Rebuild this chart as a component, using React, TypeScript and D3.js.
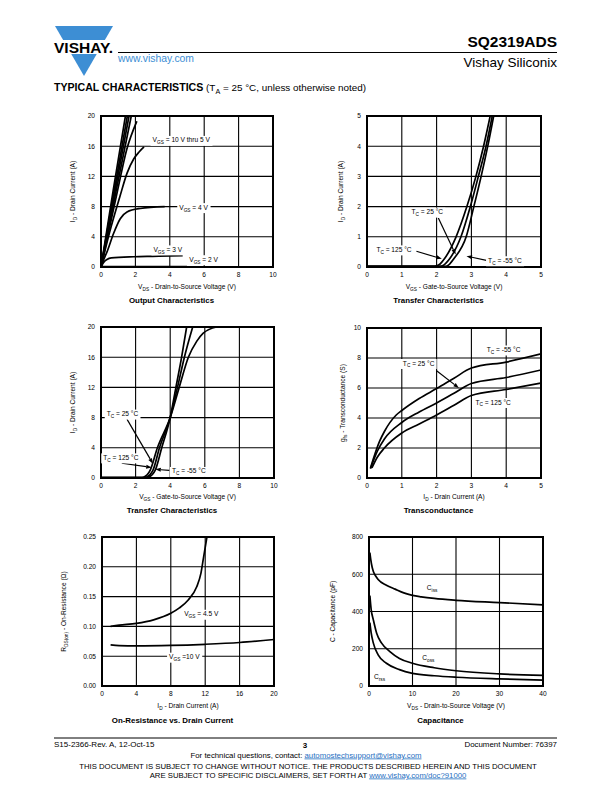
import React, { useLayoutEffect, useRef } from "react";
import * as d3 from "d3";

const FONT = "'Liberation Sans', Arial, Helvetica, sans-serif";
const BLUE = "#3d8ed4";
const LINK = "#1f6fbf";

type Pt = [number, number];

// ---------- Chart 1: Output characteristics ----------
const OUT_X_TICKS = [0, 2, 4, 6, 8, 10];
const OUT_Y_TICKS = [0, 4, 8, 12, 16, 20];
const OUT_VGS10: Pt[] = [[0, 0], [0.7, 10], [1.42, 20]];
const OUT_VGS8: Pt[] = [[0, 0], [0.76, 10], [1.53, 20]];
const OUT_VGS7: Pt[] = [[0, 0], [0.81, 10], [1.63, 20]];
const OUT_VGS6: Pt[] = [[0, 0], [0.87, 10], [1.76, 20]];
const OUT_VGS5: Pt[] = [[0, 0], [0.95, 10], [1.5, 15.6], [2.08, 19.3]];
const OUT_VGS45: Pt[] = [[0, 0], [0.5, 4.6], [1.12, 9.5], [1.51, 12.4], [1.9, 14.3], [2.2, 15.2], [2.5, 15.9]];
const OUT_VGS4: Pt[] = [[0, 0], [0.2, 1.2], [0.35, 2.0], [0.73, 4.44], [1.12, 6.4], [1.51, 7.3], [2.28, 7.75], [3.7, 8.0]];
const OUT_VGS3: Pt[] = [[0, 0], [0.15, 0.6], [0.35, 1.0], [0.6, 1.2], [1.9, 1.36], [3.0, 1.42], [4.75, 1.5]];
const OUT_VGS2: Pt[] = [[0, 0.05], [5.0, 0.05]];

// ---------- Chart 2: Transfer characteristics (0-5 V) ----------
const TR1_X_TICKS = [0, 1, 2, 3, 4, 5];
const TR1_Y_TICKS = [0, 1, 2, 3, 4, 5];
const TR1_T125: Pt[] = [[0, 0.02], [1.9, 0.02], [2.0, 0.04], [2.1, 0.1], [2.23, 0.28], [2.56, 1.0], [2.87, 2.0], [3.13, 3.0], [3.35, 4.0], [3.54, 5.0]];
const TR1_T25: Pt[] = [[0, 0.02], [2.1, 0.02], [2.2, 0.06], [2.38, 0.28], [2.7, 1.0], [2.97, 2.0], [3.2, 3.0], [3.42, 4.0], [3.6, 5.0]];
const TR1_TM55: Pt[] = [[0, 0.02], [2.25, 0.02], [2.35, 0.07], [2.5, 0.28], [2.85, 1.0], [3.07, 2.0], [3.28, 3.0], [3.47, 4.0], [3.64, 5.0]];

// ---------- Chart 3: Transfer characteristics (0-10 V) ----------
const TR2_X_TICKS = [0, 2, 4, 6, 8, 10];
const TR2_Y_TICKS = [0, 4, 8, 12, 16, 20];
const TR2_T125: Pt[] = [[0, 0.05], [2.3, 0.05], [2.45, 0.1], [2.84, 1.0], [3.26, 4.0], [4.0, 8.0], [4.52, 12], [5.05, 16], [5.53, 18.1], [5.91, 19.2], [6.68, 20]];
const TR2_T25: Pt[] = [[0, 0.05], [2.45, 0.05], [2.61, 0.1], [3.0, 1.0], [3.38, 4.0], [4.0, 8.0], [4.42, 12], [4.82, 16], [5.3, 20]];
const TR2_TM55: Pt[] = [[0, 0.05], [2.6, 0.05], [2.74, 0.1], [3.13, 1.0], [3.51, 4.0], [4.0, 8.0], [4.33, 12], [4.66, 16], [4.95, 20]];

// ---------- Chart 4: Transconductance ----------
const GFS_X_TICKS = [0, 1, 2, 3, 4, 5];
const GFS_Y_TICKS = [0, 2, 4, 6, 8, 10];
const GFS_TM55: Pt[] = [[0.1, 0.67], [0.36, 2.44], [0.5, 3.1], [0.84, 4.2], [1, 4.5], [1.5, 5.3], [2, 5.96], [2.5, 6.65], [3, 7.33], [4, 7.73], [5, 8.27]];
const GFS_T25: Pt[] = [[0.1, 0.62], [0.3, 1.8], [0.5, 2.6], [1, 3.7], [1.5, 4.4], [2, 5.0], [2.5, 5.65], [3, 6.3], [4, 6.7], [5, 7.2]];
const GFS_T125: Pt[] = [[0.14, 0.67], [0.3, 1.4], [0.5, 2.0], [1, 3.0], [1.5, 3.6], [2, 4.2], [2.5, 4.85], [3, 5.5], [4, 5.9], [5, 6.33]];

// ---------- Chart 5: On-resistance vs drain current ----------
const RDS_X_TICKS = [0, 4, 8, 12, 16, 20];
const RDS_Y_TICKS = [0, 0.05, 0.1, 0.15, 0.2, 0.25];
const RDS_VGS45: Pt[] = [[1, 0.1], [2, 0.102], [4, 0.105], [6, 0.111], [8, 0.122], [9, 0.131], [10, 0.144], [11, 0.166], [11.5, 0.189], [11.8, 0.215], [12.2, 0.25]];
const RDS_VGS10: Pt[] = [[1, 0.069], [2, 0.0678], [4, 0.0672], [8, 0.068], [12, 0.07], [16, 0.073], [20, 0.078]];

// ---------- Chart 6: Capacitance ----------
const CAP_X_TICKS = [0, 10, 20, 30, 40];
const CAP_Y_TICKS = [0, 200, 400, 600, 800];
const CAP_CISS: Pt[] = [[0.2, 716], [0.4, 680], [0.7, 640], [1, 615], [1.5, 592], [2.1, 572], [4, 541], [6, 520], [8, 500], [10, 487], [12, 479], [15, 470], [20, 460], [30, 448], [40, 436]];
const CAP_COSS: Pt[] = [[0.2, 485], [0.5, 410], [1, 355], [1.76, 283], [2.9, 230], [4.8, 185], [7, 148], [10, 122], [15, 98], [20, 82], [30, 65], [40, 57]];
const CAP_CRSS: Pt[] = [[0.2, 340], [0.5, 285], [1, 230], [2.1, 167], [4, 122], [7, 88], [10, 68], [15, 55], [20, 47], [30, 38], [40, 32]];

// ---------- rich text helper: "V_{GS}" -> subscript ----------
function Rich({ s, size }: { s: string; size: number }) {
  const parts: { t: string; sub: boolean }[] = [];
  const re = /_\{([^}]*)\}/g;
  let last = 0;
  let m: RegExpExecArray | null;
  while ((m = re.exec(s))) {
    if (m.index > last) parts.push({ t: s.slice(last, m.index), sub: false });
    parts.push({ t: m[1], sub: true });
    last = m.index + m[0].length;
  }
  if (last < s.length) parts.push({ t: s.slice(last), sub: false });
  const out: React.ReactNode[] = [];
  let shifted = false;
  parts.forEach((p, i) => {
    if (p.sub) {
      out.push(
        <tspan key={i} dy={size * 0.3} fontSize={size * 0.72}>
          {p.t}
        </tspan>
      );
      shifted = true;
    } else {
      out.push(
        <tspan key={i} dy={shifted ? -size * 0.3 : 0} fontSize={size}>
          {p.t}
        </tspan>
      );
      shifted = false;
    }
  });
  return <>{out}</>;
}

function BoxLabel({ x, y, s, size, anchor = "start" }: { x: number; y: number; s: string; size: number; anchor?: string }) {
  const tRef = useRef<SVGTextElement>(null);
  const rRef = useRef<SVGRectElement>(null);
  useLayoutEffect(() => {
    if (tRef.current && rRef.current) {
      const b = tRef.current.getBBox();
      rRef.current.setAttribute("x", String(b.x - 2));
      rRef.current.setAttribute("y", String(b.y - 0.5));
      rRef.current.setAttribute("width", String(b.width + 4));
      rRef.current.setAttribute("height", String(b.height + 1));
    }
  });
  return (
    <g>
      <rect ref={rRef} fill="#fff" />
      <text ref={tRef} x={x} y={y} fontFamily={FONT} fontSize={size} textAnchor={anchor as any} fill="#000">
        <Rich s={s} size={size} />
      </text>
    </g>
  );
}

type Label = { at: Pt; text: string };
type Arrow = { from: Pt; to: Pt };

type ChartProps = {
  frame: { x0: number; x1: number; y0: number; y1: number };
  xDomain: [number, number];
  yDomain: [number, number];
  xTicks: number[];
  yTicks: number[];
  yFmt?: (v: number) => string;
  xLabel: string;
  yLabel: string;
  yLabelDx: number;
  title: string;
  series: Pt[][];
  labels: Label[];
  arrows: Arrow[];
  xLabelDy: number;
  titleDy: number;
};

function Chart(p: ChartProps) {
  const { frame } = p;
  const x = d3.scaleLinear().domain(p.xDomain).range([frame.x0, frame.x1]);
  const y = d3.scaleLinear().domain(p.yDomain).range([frame.y1, frame.y0]);
  const line = d3
    .line<Pt>()
    .x((d) => x(d[0]))
    .y((d) => y(d[1]))
    .curve(d3.curveMonotoneX);
  const fmt = p.yFmt || ((v: number) => String(v));
  const cx = (frame.x0 + frame.x1) / 2;
  const cy = (frame.y0 + frame.y1) / 2;
  const clipId = `clip-${frame.x0}-${frame.y0}`;
  return (
    <g>
      <defs>
        <clipPath id={clipId}>
          <rect x={frame.x0} y={frame.y0} width={frame.x1 - frame.x0} height={frame.y1 - frame.y0} />
        </clipPath>
      </defs>
      {p.xTicks.slice(1, -1).map((t) => (
        <line key={"gx" + t} x1={x(t)} x2={x(t)} y1={frame.y0} y2={frame.y1} stroke="#000" strokeWidth={1.1} />
      ))}
      {p.yTicks.slice(1, -1).map((t) => (
        <line key={"gy" + t} x1={frame.x0} x2={frame.x1} y1={y(t)} y2={y(t)} stroke="#000" strokeWidth={1.1} />
      ))}
      <g clipPath={`url(#${clipId})`}>
        {p.series.map((s, i) => (
          <path key={i} d={line(s) || ""} fill="none" stroke="#000" strokeWidth={1.7} />
        ))}
      </g>
      <rect x={frame.x0} y={frame.y0} width={frame.x1 - frame.x0} height={frame.y1 - frame.y0} fill="none" stroke="#000" strokeWidth={2} />
      {p.xTicks.map((t) => (
        <text key={"tx" + t} x={x(t)} y={frame.y1 + 10} fontFamily={FONT} fontSize={6.6} textAnchor="middle">
          {t}
        </text>
      ))}
      {p.yTicks.map((t) => (
        <text key={"ty" + t} x={frame.x0 - 6} y={y(t) + 2.4} fontFamily={FONT} fontSize={6.6} textAnchor="end">
          {fmt(t)}
        </text>
      ))}
      <text x={cx} y={frame.y1 + p.xLabelDy} fontFamily={FONT} fontSize={6.6} textAnchor="middle">
        <Rich s={p.xLabel} size={6.6} />
      </text>
      <text
        transform={`translate(${frame.x0 + p.yLabelDx},${cy}) rotate(-90)`}
        fontFamily={FONT}
        fontSize={6.6}
        textAnchor="middle"
      >
        <Rich s={p.yLabel} size={6.6} />
      </text>
      <text x={cx - 15.5} y={frame.y1 + p.titleDy} fontFamily={FONT} fontSize={7.9} fontWeight="bold" textAnchor="middle">
        {p.title}
      </text>
      {p.arrows.map((a, i) => {
        const x1 = x(a.from[0]), y1 = y(a.from[1]), x2 = x(a.to[0]), y2 = y(a.to[1]);
        const ang = Math.atan2(y2 - y1, x2 - x1);
        const L = 5.5, W = 2;
        const bx = x2 - L * Math.cos(ang), by = y2 - L * Math.sin(ang);
        const px = -Math.sin(ang) * W, py = Math.cos(ang) * W;
        return (
          <g key={"a" + i}>
            <line x1={x1} y1={y1} x2={bx} y2={by} stroke="#000" strokeWidth={1.2} />
            <polygon points={`${x2},${y2} ${bx + px},${by + py} ${bx - px},${by - py}`} fill="#000" />
          </g>
        );
      })}
      {p.labels.map((l, i) => (
        <BoxLabel key={"l" + i} x={x(l.at[0])} y={y(l.at[1])} s={l.text} size={6.6} />
      ))}
    </g>
  );
}

export default function App() {
  return (
    <svg width={612} height={792} style={{ position: "absolute", left: 0, top: 0, background: "#fff" }}>
      <rect x={0} y={0} width={612} height={792} fill="#fff" />
      {/* Logo */}
      <polygon points="55,26 113,26 84,76" fill={BLUE} />
      <rect x={50} y={40} width={67} height={14} fill="#fff" />
      <text x={54} y={52.5} fontFamily={FONT} fontSize={14} fontWeight="bold" textLength={59} lengthAdjust="spacingAndGlyphs">
        VISHAY.
      </text>
      {/* Header */}
      <text x={557} y={47} fontFamily={FONT} fontSize={15.5} fontWeight="bold" textAnchor="end">
        SQ2319ADS
      </text>
      <line x1={118} x2={557} y1={52.5} y2={52.5} stroke="#000" strokeWidth={1} />
      <text x={118} y={62} fontFamily={FONT} fontSize={10.4} fill={BLUE}>
        www.vishay.com
      </text>
      <text x={557} y={67} fontFamily={FONT} fontSize={13.5} textAnchor="end">
        Vishay Siliconix
      </text>
      <text x={54} y={91} fontFamily={FONT} fontSize={9.9}>
        <tspan fontWeight="bold" fontSize={10.6}>TYPICAL CHARACTERISTICS</tspan>
        <tspan> (T</tspan>
        <tspan fontSize={7.2} dy={2.5}>A</tspan>
        <tspan dy={-2.5}> = 25 °C, unless otherwise noted)</tspan>
      </text>

      <Chart
        frame={{ x0: 101, x1: 273, y0: 116, y1: 267 }}
        xDomain={[0, 10]}
        yDomain={[0, 20]}
        xTicks={OUT_X_TICKS}
        yTicks={OUT_Y_TICKS}
        xLabel="V_{DS} - Drain-to-Source Voltage (V)"
        yLabel="I_{D} - Drain Current (A)"
        yLabelDx={-26}
        title="Output Characteristics"
        series={[OUT_VGS10, OUT_VGS8, OUT_VGS7, OUT_VGS6, OUT_VGS5, OUT_VGS45, OUT_VGS4, OUT_VGS3, OUT_VGS2]}
        labels={[
          { at: [3.0, 16.5], text: "V_{GS} = 10 V thru 5 V" },
          { at: [4.55, 7.6], text: "V_{GS} = 4 V" },
          { at: [3.05, 2.0], text: "V_{GS} = 3 V" },
          { at: [5.13, 0.7], text: "V_{GS} = 2 V" },
        ]}
        arrows={[]}
        xLabelDy={22}
        titleDy={36}
      />

      <Chart
        frame={{ x0: 367, x1: 541, y0: 116, y1: 267 }}
        xDomain={[0, 5]}
        yDomain={[0, 5]}
        xTicks={TR1_X_TICKS}
        yTicks={TR1_Y_TICKS}
        xLabel="V_{GS} - Gate-to-Source Voltage (V)"
        yLabel="I_{D} - Drain Current (A)"
        yLabelDx={-24}
        title="Transfer Characteristics"
        series={[TR1_T125, TR1_T25, TR1_TM55]}
        labels={[
          { at: [1.28, 1.75], text: "T_{C} = 25 °C" },
          { at: [0.27, 0.5], text: "T_{C} = 125 °C" },
          { at: [3.48, 0.14], text: "T_{C} = -55 °C" },
        ]}
        arrows={[
          { from: [2.05, 1.62], to: [2.55, 0.41] },
          { from: [1.42, 0.52], to: [2.15, 0.27] },
          { from: [3.43, 0.22], to: [2.86, 0.36] },
        ]}
        xLabelDy={22}
        titleDy={36}
      />

      <Chart
        frame={{ x0: 101, x1: 274, y0: 327, y1: 478 }}
        xDomain={[0, 10]}
        yDomain={[0, 20]}
        xTicks={TR2_X_TICKS}
        yTicks={TR2_Y_TICKS}
        xLabel="V_{GS} - Gate-to-Source Voltage (V)"
        yLabel="I_{D} - Drain Current (A)"
        yLabelDx={-26}
        title="Transfer Characteristics"
        series={[TR2_T125, TR2_T25, TR2_TM55]}
        labels={[
          { at: [0.33, 8.2], text: "T_{C} = 25 °C" },
          { at: [0.13, 2.4], text: "T_{C} = 125 °C" },
          { at: [4.1, 0.6], text: "T_{C} = -55 °C" },
        ]}
        arrows={[
          { from: [1.5, 7.8], to: [3.0, 1.9] },
          { from: [1.2, 1.95], to: [2.93, 1.4] },
          { from: [3.95, 1.0], to: [3.14, 1.15] },
        ]}
        xLabelDy={21}
        titleDy={35}
      />

      <Chart
        frame={{ x0: 367, x1: 541, y0: 328, y1: 478 }}
        xDomain={[0, 5]}
        yDomain={[0, 10]}
        xTicks={GFS_X_TICKS}
        yTicks={GFS_Y_TICKS}
        xLabel="I_{D} - Drain Current (A)"
        yLabel="g_{fs} - Transconductance (S)"
        yLabelDx={-22}
        title="Transconductance"
        series={[GFS_TM55, GFS_T25, GFS_T125]}
        labels={[
          { at: [3.44, 8.4], text: "T_{C} = -55 °C" },
          { at: [1.03, 7.5], text: "T_{C} = 25 °C" },
          { at: [3.12, 4.9], text: "T_{C} = 125 °C" },
        ]}
        arrows={[{ from: [2.0, 7.15], to: [2.64, 6.0] }]}
        xLabelDy={21}
        titleDy={35}
      />

      <Chart
        frame={{ x0: 102, x1: 274, y0: 537, y1: 686 }}
        xDomain={[0, 20]}
        yDomain={[0, 0.25]}
        xTicks={RDS_X_TICKS}
        yTicks={RDS_Y_TICKS}
        yFmt={(v) => v.toFixed(2)}
        xLabel="I_{D} - Drain Current (A)"
        yLabel="R_{DS(on)} - On-Resistance (Ω)"
        yLabelDx={-36}
        title="On-Resistance vs. Drain Current"
        series={[RDS_VGS45, RDS_VGS10]}
        labels={[
          { at: [9.55, 0.117], text: "V_{GS} = 4.5 V" },
          { at: [7.8, 0.045], text: "V_{GS} =10 V" },
        ]}
        arrows={[]}
        xLabelDy={22}
        titleDy={37}
      />

      <Chart
        frame={{ x0: 369, x1: 543, y0: 537, y1: 686 }}
        xDomain={[0, 40]}
        yDomain={[0, 800]}
        xTicks={CAP_X_TICKS}
        yTicks={CAP_Y_TICKS}
        xLabel="V_{DS} - Drain-to-Source Voltage (V)"
        yLabel="C  - Capacitance (pF)"
        yLabelDx={-34}
        title="Capacitance"
        series={[CAP_CISS, CAP_COSS, CAP_CRSS]}
        labels={[
          { at: [13.3, 515], text: "C_{iss}" },
          { at: [12.25, 140], text: "C_{oss}" },
          { at: [1.15, 38], text: "C_{rss}" },
        ]}
        arrows={[]}
        xLabelDy={22}
        titleDy={37}
      />

      {/* Footer */}
      <line x1={54} x2={557} y1={738} y2={738} stroke="#000" strokeWidth={1} />
      <text x={54} y={747} fontFamily={FONT} fontSize={8}>S15-2366-Rev. A, 12-Oct-15</text>
      <text x={305} y={747.5} fontFamily={FONT} fontSize={8} fontWeight="bold" textAnchor="middle">3</text>
      <text x={557} y={747} fontFamily={FONT} fontSize={7.9} textAnchor="end">Document Number: 76397</text>
      <text x={306} y={757.5} fontFamily={FONT} fontSize={7.8} textAnchor="middle">
        <tspan>For technical questions, contact: </tspan>
        <tspan fill={LINK} textDecoration="underline">automostechsupport@vishay.com</tspan>
      </text>
      <text x={308} y={768.5} fontFamily={FONT} fontSize={7.75} textAnchor="middle">
        THIS DOCUMENT IS SUBJECT TO CHANGE WITHOUT NOTICE. THE PRODUCTS DESCRIBED HEREIN AND THIS DOCUMENT
      </text>
      <text x={308} y={777.5} fontFamily={FONT} fontSize={7.75} textAnchor="middle">
        <tspan>ARE SUBJECT TO SPECIFIC DISCLAIMERS, SET FORTH AT </tspan>
        <tspan fill={LINK} textDecoration="underline">www.vishay.com/doc?91000</tspan>
      </text>
    </svg>
  );
}
